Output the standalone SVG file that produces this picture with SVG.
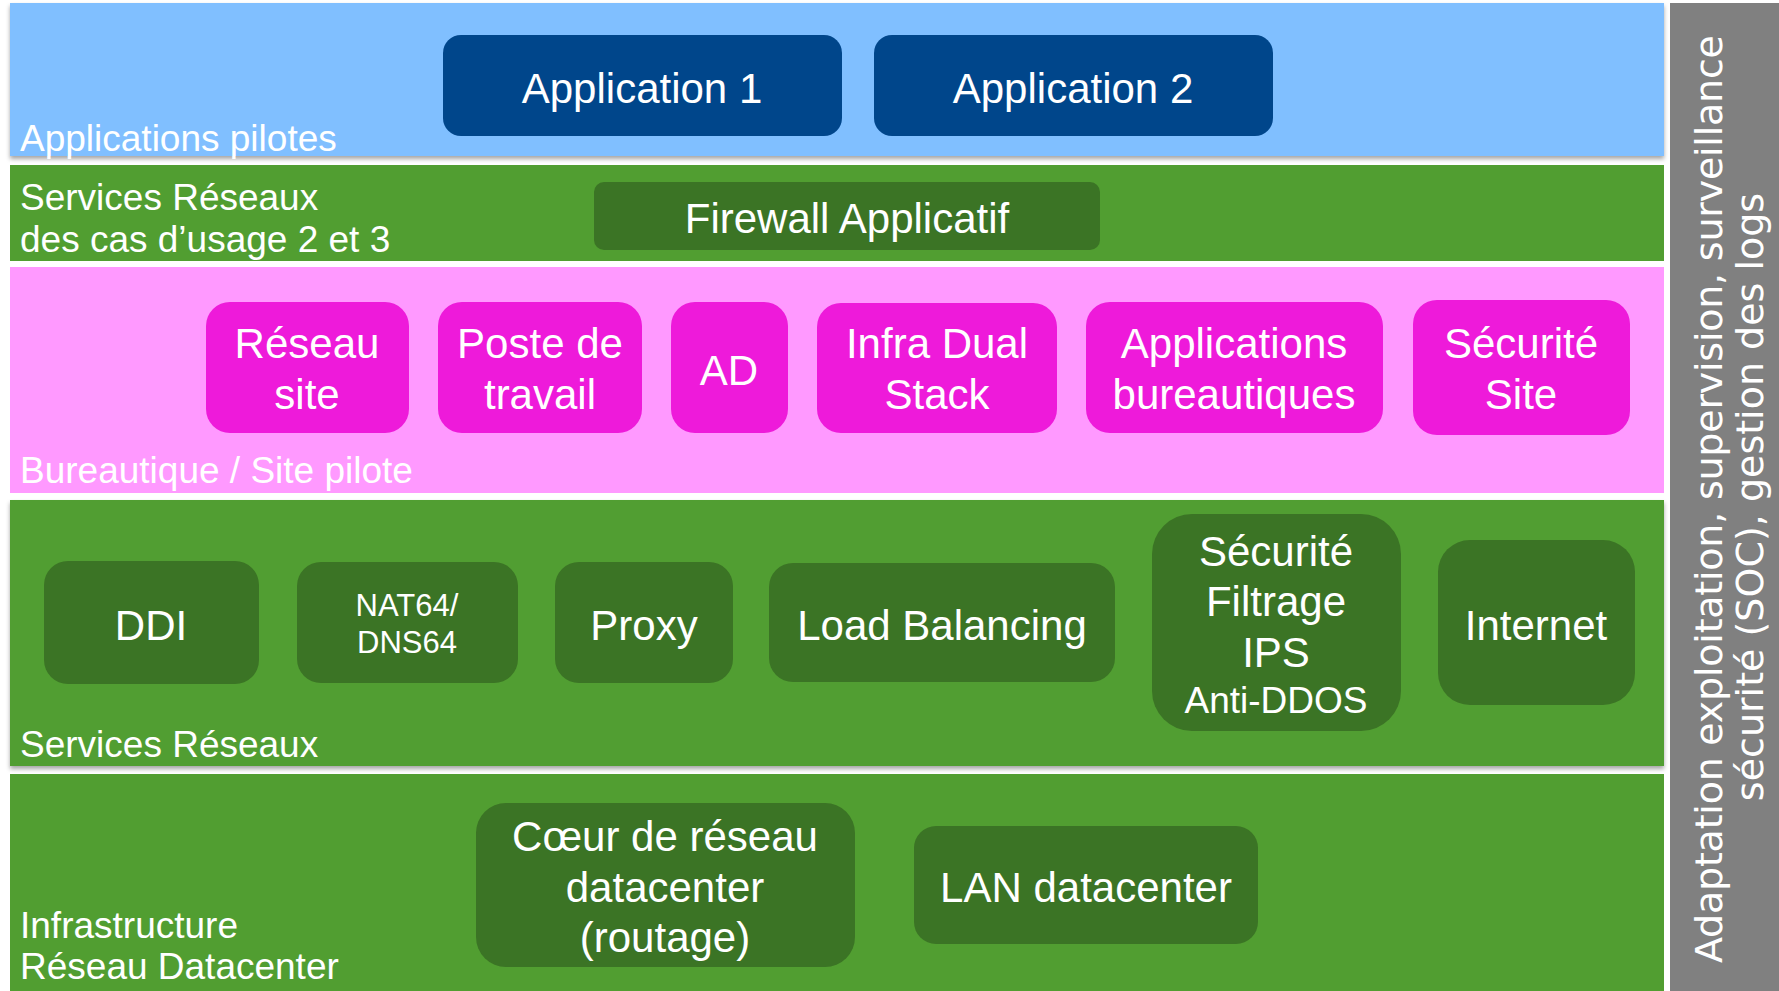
<svg xmlns="http://www.w3.org/2000/svg" width="1779" height="991" viewBox="0 0 1779 991">
<style>
.lbl{font-family:"Liberation Sans",Arial,sans-serif;fill:#ffffff;}
.band{font-size:37px;}
.nt{font-size:42px;text-anchor:middle;}
.app{fill:#00468B;}
.fw{fill:#3B7425;}
.pk{fill:#EE1ADA;}
.side{font-family:"DejaVu Sans",sans-serif;fill:#ffffff;font-size:38px;text-anchor:middle;}
</style>
<defs>
<filter id="sh" x="-2%" y="-5%" width="104%" height="115%">
<feDropShadow dx="0" dy="3" stdDeviation="2" flood-color="#000" flood-opacity="0.35"/>
</filter>
</defs>
<rect width="1779" height="991" fill="#ffffff"/>

<g id="bands">
<rect x="10" y="3" width="1654" height="153" fill="#80BFFF" filter="url(#sh)"/>
<rect x="10" y="165" width="1654" height="96" fill="#519E31"/>
<rect x="10" y="267" width="1654" height="226" fill="#FF99FF"/>
<rect x="10" y="500" width="1654" height="266" fill="#519E31" filter="url(#sh)"/>
<rect x="10" y="774" width="1654" height="230" fill="#519E31"/>
<text class="lbl band" x="20" y="151">Applications pilotes</text>
<text class="lbl band" x="20" y="210">Services Réseaux</text>
<text class="lbl band" x="20" y="252">des cas d’usage 2 et 3</text>
<text class="lbl band" x="20" y="483">Bureautique / Site pilote</text>
<text class="lbl band" x="20" y="757">Services Réseaux</text>
<text class="lbl band" x="20" y="938">Infrastructure</text>
<text class="lbl band" x="20" y="979">Réseau Datacenter</text>
</g>

<g id="side-bar">
<rect x="1670" y="3" width="109" height="988" fill="#808080"/>
<text class="side" transform="translate(1722,499) rotate(-90)" textLength="928" lengthAdjust="spacing">Adaptation exploitation, supervision,  surveillance</text>
<text class="side" transform="translate(1763,497) rotate(-90)">sécurité (SOC), gestion des logs</text>
</g>

<g id="app1"><rect class="app" x="443" y="35" width="399" height="101" rx="18"/><text class="lbl nt" x="642" y="103">Application 1</text></g>
<g id="app2"><rect class="app" x="874" y="35" width="399" height="101" rx="18"/><text class="lbl nt" x="1073" y="103">Application 2</text></g>

<g id="firewall"><rect class="fw" x="594" y="182" width="506" height="68" rx="10"/><text class="lbl nt" x="847" y="233">Firewall Applicatif</text></g>

<g id="reseau-site"><rect class="pk" x="206" y="302" width="203" height="131" rx="24"/><text class="lbl nt" x="307" y="358">Réseau</text><text class="lbl nt" x="307" y="409">site</text></g>
<g id="poste"><rect class="pk" x="438" y="302" width="204" height="131" rx="24"/><text class="lbl nt" x="540" y="358">Poste de</text><text class="lbl nt" x="540" y="409">travail</text></g>
<g id="ad"><rect class="pk" x="671" y="302" width="117" height="131" rx="24"/><text class="lbl nt" x="729" y="385">AD</text></g>
<g id="infra-dual"><rect class="pk" x="817" y="303" width="240" height="130" rx="24"/><text class="lbl nt" x="937" y="358">Infra Dual</text><text class="lbl nt" x="937" y="409">Stack</text></g>
<g id="apps-bureau"><rect class="pk" x="1086" y="302" width="297" height="131" rx="24"/><text class="lbl nt" x="1234" y="358">Applications</text><text class="lbl nt" x="1234" y="409">bureautiques</text></g>
<g id="securite-site"><rect class="pk" x="1413" y="300" width="217" height="135" rx="24"/><text class="lbl nt" x="1521" y="358">Sécurité</text><text class="lbl nt" x="1521" y="409">Site</text></g>

<g id="ddi"><rect class="fw" x="44" y="561" width="215" height="123" rx="24"/><text class="lbl nt" x="151" y="640">DDI</text></g>
<g id="nat64"><rect class="fw" x="297" y="562" width="221" height="121" rx="24"/><text class="lbl nt" x="407" y="616" style="font-size:31px">NAT64/</text><text class="lbl nt" x="407" y="653" style="font-size:31px">DNS64</text></g>
<g id="proxy"><rect class="fw" x="555" y="562" width="178" height="121" rx="24"/><text class="lbl nt" x="644" y="640">Proxy</text></g>
<g id="load-balancing"><rect class="fw" x="769" y="563" width="346" height="119" rx="24"/><text class="lbl nt" x="942" y="640">Load Balancing</text></g>
<g id="securite-filtrage"><rect class="fw" x="1152" y="514" width="249" height="217" rx="40"/><text class="lbl nt" x="1276" y="566">Sécurité</text><text class="lbl nt" x="1276" y="616">Filtrage</text><text class="lbl nt" x="1276" y="667">IPS</text><text class="lbl nt" x="1276" y="713" style="font-size:37px">Anti-DDOS</text></g>
<g id="internet"><rect class="fw" x="1438" y="540" width="197" height="165" rx="32"/><text class="lbl nt" x="1536" y="640">Internet</text></g>

<g id="coeur"><rect class="fw" x="476" y="803" width="379" height="164" rx="30"/><text class="lbl nt" x="665" y="851">Cœur de réseau</text><text class="lbl nt" x="665" y="902">datacenter</text><text class="lbl nt" x="665" y="952">(routage)</text></g>
<g id="lan"><rect class="fw" x="914" y="826" width="344" height="118" rx="22"/><text class="lbl nt" x="1086" y="902">LAN datacenter</text></g>

<g id="connectors"></g>
</svg>
